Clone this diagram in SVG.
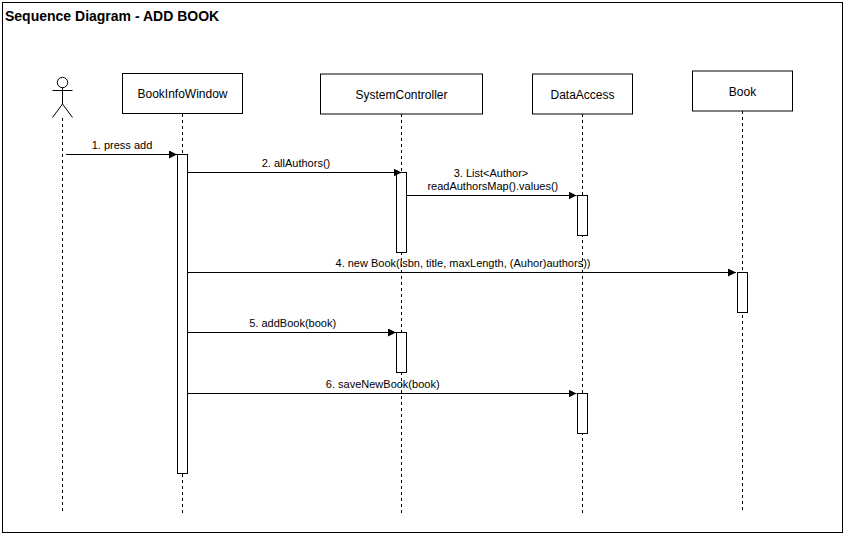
<svg xmlns="http://www.w3.org/2000/svg" width="847" height="537" viewBox="0 0 847 537">
<style>
text{font-family:"Liberation Sans",Arial,sans-serif;fill:#000}
.box{fill:#fff;stroke:#000;stroke-width:1}
.life{fill:none;stroke:#000;stroke-width:1;stroke-dasharray:3 3}
.msg{fill:none;stroke:#000;stroke-width:1;marker-end:url(#arrow)}
.name{font-size:12px;text-anchor:middle}
.lbl{font-size:11px;text-anchor:middle}
</style>
<defs>
<marker id="arrow" markerUnits="userSpaceOnUse" markerWidth="8" markerHeight="8" refX="8" refY="4" orient="auto"><path d="M0 0L8 4L0 8Z" fill="#000"/></marker>
</defs>
<rect width="847" height="537" fill="#fff"/>
<rect id="frame" x="2.5" y="2.5" width="840" height="530" fill="#fff" stroke="#000"/>
<text x="5" y="21" font-size="14" font-weight="bold">Sequence Diagram - ADD BOOK</text>
<g id="actor">
<circle cx="62.500" cy="82.500" r="5.200" fill="#fff" stroke="#000"/>
<path d="M62.500 87.500V104M52.500 90.500H72.500M62.500 104L52.500 117.500M62.500 104L72.500 117.500" fill="none" stroke="#000"/>
<path class="life" d="M62.500 118V511"/>
</g>
<g id="bookinfowindow">
<path class="life" d="M182.500 114V513"/>
<rect class="box" x="122.500" y="73.500" width="120" height="40"/>
<text class="name" x="182.500" y="98">BookInfoWindow</text>
<rect class="box" x="177.500" y="154.500" width="10" height="319"/>
</g>
<g id="systemcontroller">
<path class="life" d="M401.500 114V513"/>
<rect class="box" x="320.500" y="74" width="162" height="40"/>
<text class="name" x="401.500" y="99">SystemController</text>
<rect class="box" x="396.500" y="172.500" width="10" height="80"/>
<rect class="box" x="396.500" y="332.500" width="10" height="40"/>
</g>
<g id="dataaccess">
<path class="life" d="M582.500 114V513"/>
<rect class="box" x="532.500" y="74" width="100" height="40"/>
<text class="name" x="582.500" y="99">DataAccess</text>
<rect class="box" x="577.500" y="195.500" width="10" height="40"/>
<rect class="box" x="577.500" y="393.500" width="10" height="40"/>
</g>
<g id="book">
<path class="life" d="M742.500 111V513"/>
<rect class="box" x="692.500" y="71" width="100" height="40"/>
<text class="name" x="742.500" y="96">Book</text>
<rect class="box" x="737.500" y="272.500" width="10" height="40"/>
</g>
<g id="connectors">
<path class="msg" d="M66 154.500H177"/>
<path class="msg" d="M188 172.500H401.500"/>
<path class="msg" d="M407 195.500H576.500"/>
<path class="msg" d="M188 272.500H736"/>
<path class="msg" d="M188 332.500H396"/>
<path class="msg" d="M188 393.500H576.500"/>
<text class="lbl" x="122" y="149">1. press add</text>
<text class="lbl" x="296" y="167">2. allAuthors()</text>
<text class="lbl" x="491" y="177">3. List&lt;Author&gt;</text>
<text class="lbl" x="492.800" y="190">readAuthorsMap().values()</text>
<text class="lbl" x="463" y="267">4. new Book(isbn, title, maxLength, (Auhor)authors))</text>
<text class="lbl" x="292.700" y="327">5. addBook(book)</text>
<text class="lbl" x="382.700" y="388">6. saveNewBook(book)</text>
</g>
</svg>
